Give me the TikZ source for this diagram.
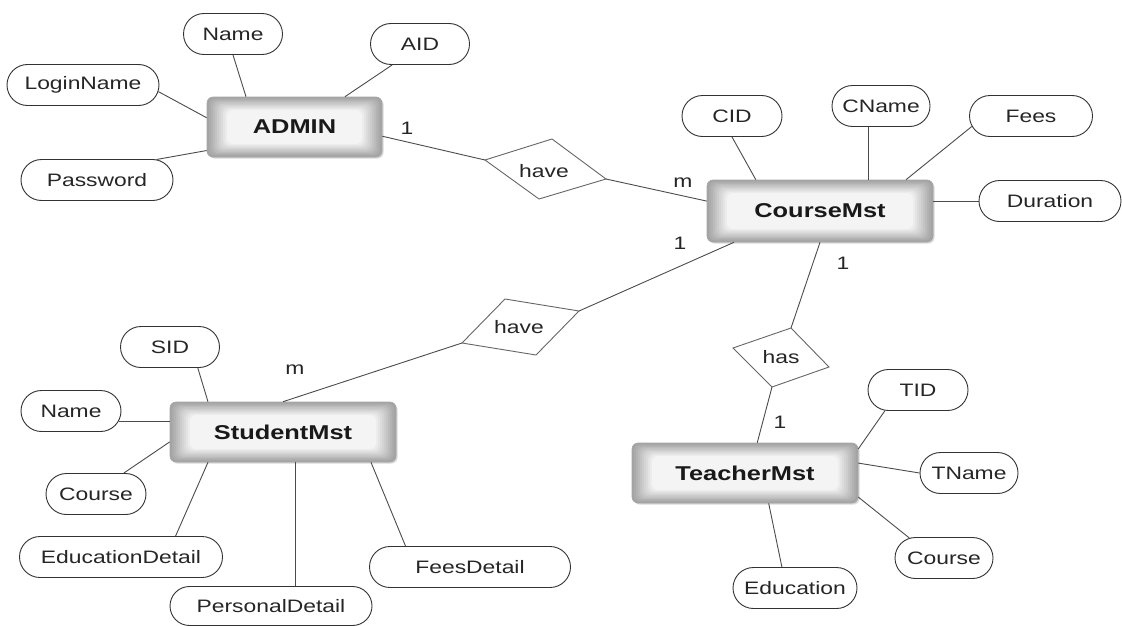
\documentclass[tikz,border=0pt]{standalone}
\usepackage{fontspec}
\setmainfont{Liberation Sans}[FakeStretch=1.27]
\usetikzlibrary{shapes.misc,shadows,calc}
\begin{document}
\begin{tikzpicture}[x=1pt,y=-1pt,
  attr/.style={rounded rectangle, draw=black!80, line width=0.9pt, fill=white,
    minimum width=#1, minimum height=41pt, inner sep=0pt,
    font=\fontsize{18}{20}\selectfont, text=black!85},
  attr/.default=100pt,
  entity/.style={rectangle, rounded corners=6pt, minimum width=226pt, minimum height=60pt,
    fill=gray!72, draw=gray!70, line width=0.6pt,
    font=\fontsize{20}{22}\selectfont\bfseries, text=black!90,
    drop shadow={shadow xshift=1.5pt, shadow yshift=-1.5pt, opacity=0.3},
    path picture={
      \foreach \dx/\dy/\c in {2/1.3/66,4/2.6/60,6/3.9/53,8/5.2/47,10/6.5/40,12/7.8/34,14/9.1/28,16/10.4/21,18/11.7/15,20/13/9}{
        \fill[gray!\c, rounded corners=6pt]
          ([shift={(\dx pt,-\dy pt)}]path picture bounding box.north west) rectangle
          ([shift={(-\dx pt,\dy pt)}]path picture bounding box.south east);
      }
    }},
  conn/.style={draw=black!70, line width=0.9pt},
  dia/.style={draw=black!60, line width=0.9pt},
  lbl/.style={font=\fontsize{18}{20}\selectfont, inner sep=0pt, text=black!85}
]
\fill[white] (0,0) rectangle (1122,626);
\useasboundingbox (0,0) rectangle (1122,626);

% entities
\node[entity, minimum width=175pt] (admin) at (294.5,127) {ADMIN};
\node[entity, minimum height=62pt] (course) at (820,211) {CourseMst};
\node[entity] (student) at (283,432) {StudentMst};
\node[entity] (teacher) at (745,473) {TeacherMst};

% attributes
\node[attr=99pt] (aname) at (233,34) {Name};
\node[attr=99pt] (aid) at (420,44) {AID};
\node[attr=152pt] (login) at (83,85) {LoginName};
\node[attr=152pt] (pass) at (97,180) {Password};
\node[attr=100pt] (cid) at (732,116) {CID};
\node[attr=98pt] (cname) at (881,106) {CName};
\node[attr=123pt] (fees) at (1031,116) {Fees};
\node[attr=142pt] (dur) at (1050,201) {Duration};
\node[attr=99pt] (sid) at (170,347) {SID};
\node[attr=100pt] (sname) at (71,411) {Name};
\node[attr=100pt] (scourse) at (96,494) {Course};
\node[attr=203pt] (edu) at (121,557) {EducationDetail};
\node[attr=202pt, minimum height=39pt] (pers) at (271,606) {PersonalDetail};
\node[attr=201pt] (feesd) at (470,567) {FeesDetail};
\node[attr=100pt] (tid) at (918,390) {TID};
\node[attr=98pt] (tname) at (969,473) {TName};
\node[attr=98pt] (tcourse) at (944,558) {Course};
\node[attr=124pt] (teduc) at (795,588) {Education};

% relationships
\coordinate (h1l) at (485,160);
\coordinate (h1t) at (552,139);
\coordinate (h1r) at (606,179);
\coordinate (h1b) at (539,199);
\draw[dia] (h1l) -- (h1t) -- (h1r) -- (h1b) -- cycle;
\node[lbl] (have1) at (544,171) {have};

\coordinate (h2a) at (505,299);
\coordinate (h2b) at (579,311);
\coordinate (h2c) at (536,355);
\coordinate (h2d) at (462,343);
\draw[dia] (h2a) -- (h2b) -- (h2c) -- (h2d) -- cycle;
\node[lbl] (have2) at (519,327) {have};

\coordinate (h3l) at (733,348);
\coordinate (h3t) at (791,328);
\coordinate (h3r) at (829,367);
\coordinate (h3b) at (772,387);
\draw[dia] (h3l) -- (h3t) -- (h3r) -- (h3b) -- cycle;
\node[lbl] (has) at (781,357) {has};

% connectors
\draw[conn] (aname.south) -- (admin.148);
\draw[conn] (aid.217) -- (admin.31);
\draw[conn] (login.-5) -- (admin.174);
\draw[conn] (pass.19) -- (admin.195);
\draw[conn] (admin.-6) -- (h1l);
\draw[conn] (h1r) -- (course.175);
\draw[conn] (cid.south) -- (course.154);
\draw[conn] (cname.240) -- (cname.240 |- course.north);
\draw[conn] (fees.190) -- (course.20);
\draw[conn] (dur.west) -- (dur.west -| course.east);
\draw[conn] (course.200) -- (h2b);
\draw[conn] (course.south) -- (h3t);
\draw[conn] (h2d) -- (student.north);
\draw[conn] (sid.-37) -- (student.158);
\draw[conn] (sname.-12) -- (sname.-12 -| student.west);
\draw[conn] (scourse.37) -- (student.185);
\draw[conn] (edu.21) -- (student.202);
\draw[conn] (student.-68) -- (student.-68 |- pers.north);
\draw[conn] (feesd.162) -- (student.-19);
\draw[conn] (h3b) -- (teacher.68);
\draw[conn] (tid.212) -- (teacher.12);
\draw[conn] (teacher.5) -- (tname.west);
\draw[conn] (teacher.-12) -- (tcourse.150);
\draw[conn] (teacher.-52) -- (teduc.122);

% cardinalities
\node[lbl] (c1) at (407,128) {1};
\node[lbl] (c2) at (683,183) {m};
\node[lbl] (c3) at (680,243) {1};
\node[lbl] (c4) at (843,263) {1};
\node[lbl] (c5) at (295,370) {m};
\node[lbl] (c6) at (780,422) {1};
\end{tikzpicture}
\end{document}
